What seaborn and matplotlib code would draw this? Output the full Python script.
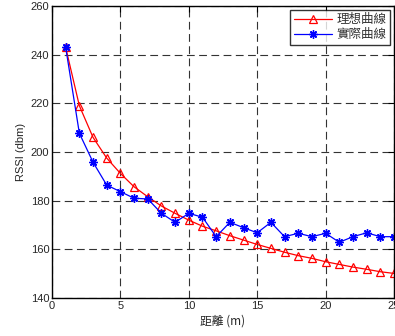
import matplotlib
matplotlib.use("Agg")
import matplotlib.pyplot as plt
import seaborn as sns
import pandas as pd

# distance (m)
distance = list(range(1, 26))

# theoretical curve
rssi_theory = [243, 219, 206, 197.5, 191.2, 185.7, 181.6, 177.8, 174.8, 172,
               169.5, 167.6, 165.6, 163.8, 162, 160.4, 158.8, 157.4, 156.3, 154.9,
               153.8, 152.7, 151.8, 150.8, 150.1]
# measured curve
rssi_actual = [243, 207.7, 195.8, 186.4, 183.7, 181, 180.7, 174.8, 171.1, 174.8,
               173.2, 165.2, 171.1, 168.9, 166.8, 171.1, 165.2, 166.6, 165.2, 166.6,
               162.9, 165.2, 166.8, 165.2, 165.2]

x_ticks = [0, 5, 10, 15, 20, 25]
y_ticks = [140, 160, 180, 200, 220, 240, 260]

sns.set_style("white")
plt.rcParams["font.family"] = ["Liberation Sans", "Noto Sans CJK TC", "DejaVu Sans"]

df = pd.DataFrame({"d": distance, "theory": rssi_theory, "actual": rssi_actual})

fig = plt.figure(figsize=(3.95, 3.36), dpi=100)
ax = fig.add_axes([52 / 395, 1 - 298 / 336, 342 / 395, 292 / 336])

sns.lineplot(data=df, x="d", y="theory", ax=ax, color="red", linewidth=0.9,
             marker="^", markersize=6, markerfacecolor="none",
             markeredgecolor="red", markeredgewidth=0.9, label="理想曲線")
sns.lineplot(data=df, x="d", y="actual", ax=ax, color="blue", linewidth=0.9,
             marker=(8, 2, 0), markersize=6, markeredgecolor="blue",
             markeredgewidth=1.0, label="實際曲線")

ax.set_xlim(0, 25)
ax.set_ylim(140, 260)
ax.set_xticks(x_ticks)
ax.set_yticks(y_ticks)
ax.grid(True, linestyle=(0, (7, 4)), color="#333333", linewidth=0.8)
ax.tick_params(direction="in", length=4, labelsize=8, top=True, right=True,
               pad=2, color="black")
for s in ax.spines.values():
    s.set_color("black")
    s.set_linewidth(1.0)

ax.set_xlabel("距離 (m)", fontsize=8.5, labelpad=3)
ax.set_ylabel("RSSI (dbm)", fontsize=8, labelpad=3)

leg = ax.legend(loc="upper right", fontsize=9, frameon=True, fancybox=False,
                borderpad=0.3, handlelength=3.0, labelspacing=0.15,
                borderaxespad=0.3, handletextpad=0.4)
leg.get_frame().set_edgecolor("black")
leg.get_frame().set_linewidth(1.0)
for t in leg.get_texts():
    t.set_family(["Noto Sans CJK TC", "DejaVu Sans"])
    t.set_color("#333333")
ax.xaxis.label.set_family(["Noto Sans CJK TC", "DejaVu Sans"])

fig.savefig("out.png", dpi=100)
